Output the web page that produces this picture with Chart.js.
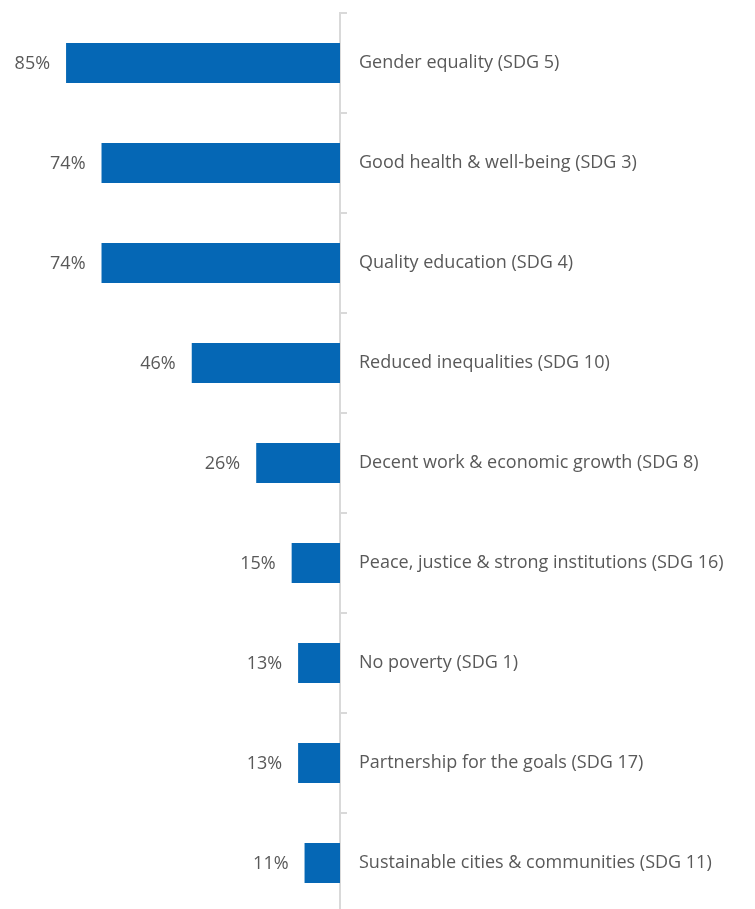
<!DOCTYPE html>
<html>
<head>
<meta charset="utf-8">
<script src="https://cdn.jsdelivr.net/npm/chart.js@4"></script>
<style>
  html, body { margin: 0; padding: 0; background: #fff; overflow: hidden; }
  #wrap { width: 755px; height: 913px; position: relative; }
</style>
</head>
<body>
<div id="wrap"><canvas id="myChart"></canvas></div>
<script>
const categories = [
  'Gender equality (SDG 5)',
  'Good health & well-being (SDG 3)',
  'Quality education (SDG 4)',
  'Reduced inequalities (SDG 10)',
  'Decent work & economic growth (SDG 8)',
  'Peace, justice & strong institutions (SDG 16)',
  'No poverty (SDG 1)',
  'Partnership for the goals (SDG 17)',
  'Sustainable cities & communities (SDG 11)'
];
const shares = [85, 74, 74, 46, 26, 15, 13, 13, 11];

const textColor = '#595959';
const fontFamily = '"Open Sans", Lato, sans-serif';

// value labels to the left of each bar
const valueLabels = {
  id: 'valueLabels',
  afterDatasetsDraw(chart) {
    const ctx = chart.ctx;
    const meta = chart.getDatasetMeta(0);
    ctx.save();
    ctx.font = '18px ' + fontFamily;
    ctx.fillStyle = textColor;
    ctx.textAlign = 'right';
    ctx.textBaseline = 'middle';
    meta.data.forEach((bar, i) => {
      ctx.fillText(shares[i] + '%', bar.x - 16, bar.y + 1);
    });
    ctx.restore();
  }
};

new Chart(document.getElementById('myChart'), {
  type: 'bar',
  data: {
    labels: categories,
    datasets: [{
      data: shares,
      backgroundColor: '#0567b5',
      borderWidth: 0,
      barPercentage: 0.4,
      categoryPercentage: 1
    }]
  },
  options: {
    indexAxis: 'y',
    responsive: true,
    maintainAspectRatio: false,
    animation: false,
    layout: { padding: { top: 13, bottom: 0, left: 0, right: 0 } },
    plugins: {
      legend: { display: false },
      tooltip: { enabled: false }
    },
    scales: {
      x: {
        display: false,
        reverse: true,
        min: 0,
        max: 105.5
      },
      y: {
        position: 'right',
        afterFit(scale) {
          scale.width = 415;
          scale.paddingTop = 0;
          scale.paddingBottom = 0;
        },
        border: { color: '#d9d9d9', width: 2 },
        grid: {
          drawOnChartArea: false,
          drawTicks: true,
          tickLength: 7,
          color: '#d9d9d9',
          lineWidth: 2,
          offset: true
        },
        ticks: {
          padding: 12,
          color: textColor,
          font: { family: fontFamily, size: 18 }
        }
      }
    }
  },
  plugins: [valueLabels]
});
</script>
</body>
</html>
